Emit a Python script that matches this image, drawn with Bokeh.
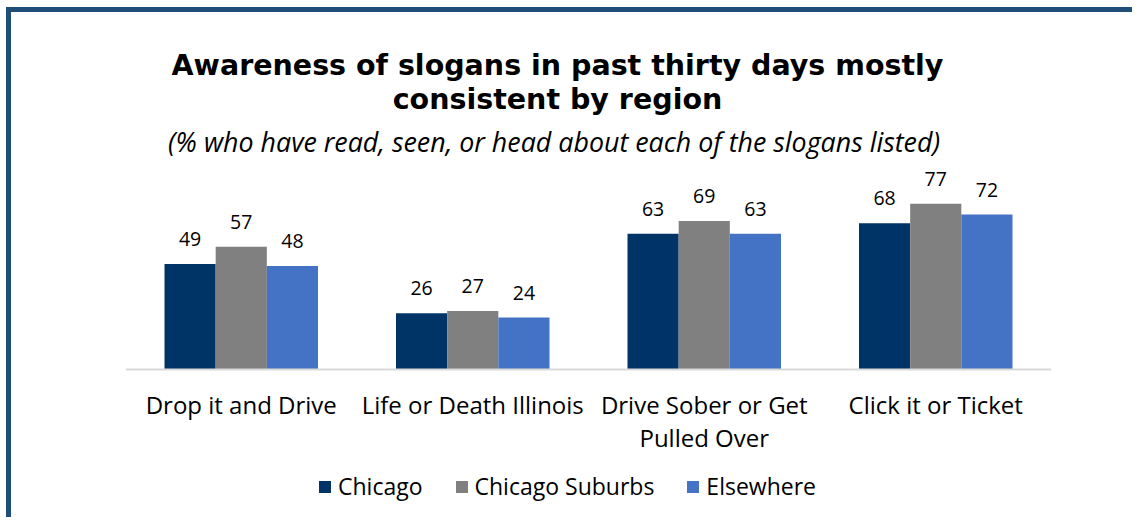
from bokeh.plotting import figure
from bokeh.models import ColumnDataSource, Legend, LegendItem, FactorRange, Range1d, Label
from bokeh.transform import dodge
from bokeh.core.properties import value
from bokeh.embed import file_html
from bokeh.resources import INLINE

slogans = ["Drop it and Drive", "Life or Death Illinois",
           "Drive Sober or Get\nPulled Over", "Click it or Ticket"]
regions = ["Chicago", "Chicago Suburbs", "Elsewhere"]
chicago = [49, 26, 63, 68]
suburbs = [57, 27, 69, 77]
elsewhere = [48, 24, 63, 72]
colors = ["#003366", "#808080", "#4472C4"]
title_lines = ["Awareness of slogans in past thirty days mostly", "consistent by region"]
subtitle = "(%  who have read, seen, or head about each of the slogans listed)"

series = [chicago, suburbs, elsewhere]
data = {"cat": slogans}
keys = ["chicago", "suburbs", "elsewhere"]
for k, s in zip(keys, series):
    data[k] = s
    data[k + "_lbl"] = [str(v) for v in s]
src = ColumnDataSource(data)

p = figure(x_range=FactorRange(factors=slogans), y_range=Range1d(-71.56, 166.2),
           width=1126, height=510, output_backend="svg", toolbar_location=None,
           min_border_left=114, min_border_right=86, min_border_bottom=0,
           min_border_top=0)
p.styles = {"margin-left": "6px", "margin-top": "7px",
            "border-left": "5px solid #1F4E79", "border-top": "5px solid #1F4E79"}
p.outline_line_color = None
p.xgrid.grid_line_color = None
p.ygrid.grid_line_color = None
p.yaxis.visible = False

bw = 0.221
offsets = [-bw, 0.0, bw]
renderers = []
for k, off, c in zip(keys, offsets, colors):
    r = p.vbar(x=dodge("cat", off, range=p.x_range), top=k, width=bw, source=src,
               fill_color=c, line_color=None)
    renderers.append(r)
    p.text(x=dodge("cat", off, range=p.x_range), y=k, text=k + "_lbl", source=src,
           text_font=value("Open Sans"), text_font_size="19.5px", text_color="#000000",
           text_align="center", text_baseline="alphabetic", y_offset=-25)

xa = p.xaxis[0]
xa.fixed_location = 0
xa.axis_line_color = "#D9D9D9"
xa.axis_line_width = 2
xa.major_tick_line_color = None
xa.minor_tick_line_color = None
xa.major_tick_out = 0
xa.major_tick_in = 0
xa.major_label_text_font = "Open Sans"
xa.major_label_text_font_size = "24px"
xa.major_label_text_color = "#000000"
xa.major_label_text_line_height = 1.0
xa.major_label_standoff = 19

legend = Legend(items=[LegendItem(label=r_, renderers=[rr]) for r_, rr in zip(regions, renderers)],
                orientation="horizontal", location=(192, 20),
                label_text_font="Open Sans", label_text_font_size="23px",
                label_text_color="#000000",
                glyph_width=15, glyph_height=15, label_height=15, spacing=31, label_standoff=6,
                border_line_color=None, background_fill_alpha=0, padding=0, margin=0)
p.add_layout(legend, "center")

tx = 1.866
p.add_layout(Label(x=tx, y=141.7, text=title_lines[0], text_align="center",
                   text_baseline="alphabetic", text_font="DejaVu Sans",
                   text_font_style="bold", text_font_size="28.5px", text_color="#000000"))
p.add_layout(Label(x=tx, y=125.8, text=title_lines[1], text_align="center",
                   text_baseline="alphabetic", text_font="DejaVu Sans",
                   text_font_style="bold", text_font_size="28.5px", text_color="#000000"))
p.add_layout(Label(x=tx, y=106.0, text=subtitle, text_align="center",
                   text_baseline="alphabetic", text_font="Open Sans",
                   text_font_style="italic", text_font_size="26.8px", text_color="#000000"))

open("out.html", "w").write(file_html(p, INLINE))
